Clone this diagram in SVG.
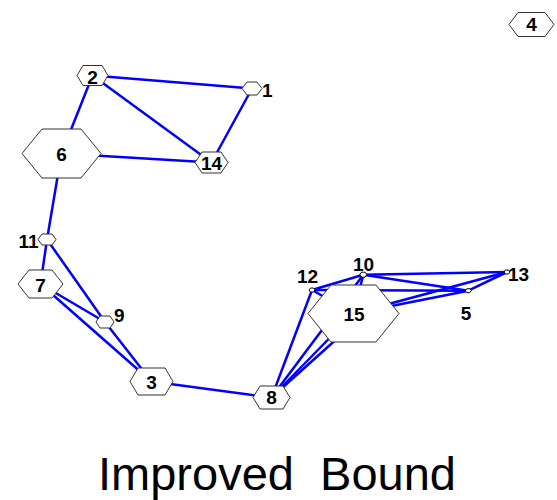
<svg xmlns="http://www.w3.org/2000/svg" width="557" height="500" viewBox="0 0 557 500">
<style>
.e{stroke:#0000ff;stroke-width:2.5;fill:none}
.n{fill:#ffffff;stroke:#333333;stroke-width:1}
.s{fill:#ffffff;stroke:#000000;stroke-width:1}
.l{font-family:"Liberation Sans",Arial,sans-serif;font-weight:bold;font-size:19px;fill:#000000;text-anchor:middle}
.t{font-family:"Liberation Sans",Arial,sans-serif;font-size:46px;fill:#000000}
</style>
<rect width="557" height="500" fill="#ffffff"/>
<g id="edges">
<line class="e" x1="92.5" y1="75.5" x2="252" y2="88.5"/>
<line class="e" x1="92.5" y1="75.5" x2="211.5" y2="162.5"/>
<line class="e" x1="92.5" y1="75.5" x2="61.5" y2="153.5"/>
<line class="e" x1="61.5" y1="153.5" x2="211.5" y2="162.5"/>
<line class="e" x1="252" y1="88.5" x2="211.5" y2="162.5"/>
<line class="e" x1="61.5" y1="153.5" x2="47" y2="239.5"/>
<line class="e" x1="47" y1="239.5" x2="40.5" y2="284"/>
<line class="e" x1="47" y1="239.5" x2="105" y2="322"/>
<line class="e" x1="105" y1="322" x2="151.5" y2="381.5"/>
<line class="e" x1="40.5" y1="284" x2="105" y2="322"/>
<line class="e" x1="40.5" y1="284" x2="151.5" y2="381.5"/>
<line class="e" x1="151.5" y1="381.5" x2="271.5" y2="397.5"/>
<line class="e" x1="271.5" y1="397.5" x2="312" y2="290"/>
<line class="e" x1="271.5" y1="397.5" x2="363.3" y2="274.7"/>
<line class="e" x1="271.5" y1="397.5" x2="353.5" y2="313.5"/>
<line class="e" x1="271.5" y1="397.5" x2="360" y2="318"/>
<line class="e" x1="312" y1="290" x2="363.3" y2="274.7"/>
<line class="e" x1="312" y1="290" x2="468.3" y2="290.7"/>
<line class="e" x1="312" y1="290" x2="353.5" y2="313.5"/>
<line class="e" x1="363.3" y1="274.7" x2="507" y2="272"/>
<line class="e" x1="363.3" y1="274.7" x2="468.3" y2="290.7"/>
<line class="e" x1="363.3" y1="274.7" x2="353.5" y2="313.5"/>
<line class="e" x1="353.5" y1="313.5" x2="468.3" y2="290.7"/>
<line class="e" x1="353.5" y1="313.5" x2="507" y2="272"/>
<line class="e" x1="507" y1="272" x2="468.3" y2="290.7"/>
</g>
<g id="node1"><polygon class="n" points="242,88.5 247,82 257,82 262,88.5 257,95 247,95"/><text class="l" x="262" y="97" style="text-anchor:start">1</text></g>
<g id="node2"><polygon class="n" points="77,75.5 83,65.5 102,65.5 108,75.5 102,85.5 83,85.5"/><text class="l" x="92.5" y="84">2</text></g>
<g id="node3"><polygon class="n" points="130,381.5 138,368 165,368 173,381.5 165,395 138,395"/><text class="l" x="151.5" y="389">3</text></g>
<g id="node4"><polygon class="n" points="509,24.5 518,12.5 545,12.5 554,24.5 545,36.5 518,36.5"/><text class="l" x="531.5" y="31">4</text></g>
<g id="node5"><polygon class="s" points="465.3,290.7 466.8,288.7 469.8,288.7 471.3,290.7 469.8,292.7 466.8,292.7"/><text class="l" x="466" y="320">5</text></g>
<g id="node6"><polygon class="n" points="22,153.5 42,129 81,129 101,153.5 81,178 42,178"/><text class="l" x="61.5" y="161">6</text></g>
<g id="node7"><polygon class="n" points="18,284 29,270 52,270 63,284 52,298 29,298"/><text class="l" x="40.5" y="291.5">7</text></g>
<g id="node8"><polygon class="n" points="253,397.5 260,386 283,386 290,397.5 283,409 260,409"/><text class="l" x="271.5" y="404">8</text></g>
<g id="node9"><polygon class="n" points="96,322 100,316 110,316 114,322 110,328 100,328"/><text class="l" x="114" y="321.5" style="text-anchor:start">9</text></g>
<g id="node10"><polygon class="s" points="359.8,274.7 361.5,272.2 365.1,272.2 366.8,274.7 365.1,277.2 361.5,277.2"/><text class="l" x="363.5" y="270.5">10</text></g>
<g id="node11"><polygon class="n" points="38,239.5 42,234 52,234 56,239.5 52,245 42,245"/><text class="l" x="38.5" y="248" style="text-anchor:end">11</text></g>
<g id="node12"><polygon class="s" points="309,290 310.5,288 313.5,288 315,290 313.5,292 310.5,292"/><text class="l" x="307.5" y="283">12</text></g>
<g id="node13"><polygon class="s" points="504,272 505.5,270 508.5,270 510,272 508.5,274 505.5,274"/><text class="l" x="508" y="281" style="text-anchor:start">13</text></g>
<g id="node14"><polygon class="n" points="195,162.5 202,152 221,152 228,162.5 221,173 202,173"/><text class="l" x="211.5" y="170">14</text></g>
<g id="node15"><polygon class="n" points="308,313.5 331,285 376,285 399,313.5 376,342 331,342"/><text class="l" x="354" y="321">15</text></g>
<text class="t" x="98" y="490" textLength="358" lengthAdjust="spacingAndGlyphs" xml:space="preserve">Improved  Bound</text>
</svg>
